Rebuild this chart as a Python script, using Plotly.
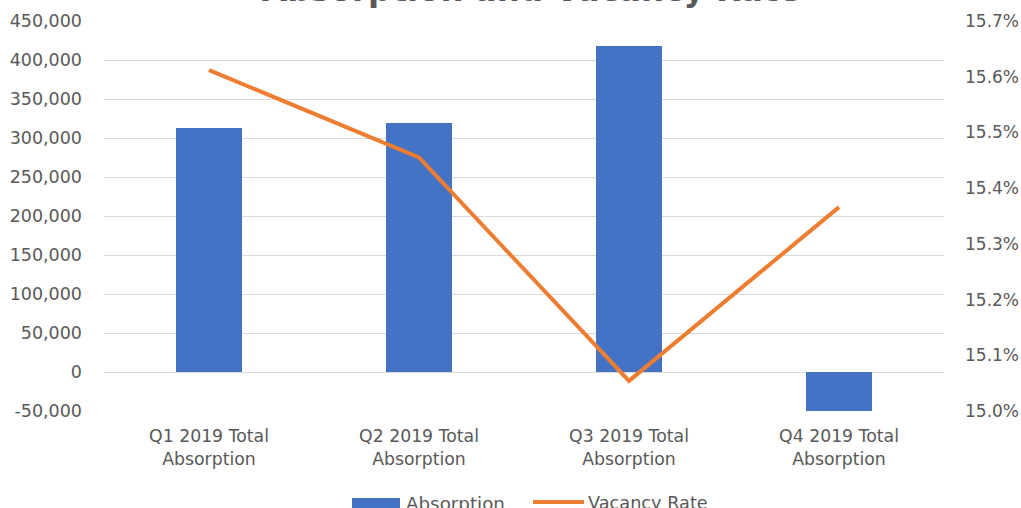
import plotly.graph_objects as go

# Quarterly data
quarters = ["Q1 2019 Total<br>Absorption", "Q2 2019 Total<br>Absorption",
            "Q3 2019 Total<br>Absorption", "Q4 2019 Total<br>Absorption"]
absorption = [313000, 319500, 418000, -50000]
vacancy_rate = [0.15612, 0.15455, 0.15054, 0.15366]

# Left-axis tick labels (plain hyphen for the negative value)
abs_ticks = [-50000, 0, 50000, 100000, 150000, 200000, 250000, 300000,
             350000, 400000, 450000]
abs_tick_text = ["-50,000", "0", "50,000", "100,000", "150,000", "200,000",
                 "250,000", "300,000", "350,000", "400,000", "450,000"]

BLUE = "#4472C4"
ORANGE = "#ED7D31"
TEXT = "#595959"
GRID = "#D9D9D9"
FONT = "DejaVu Sans"

W, H = 1021, 508
PL, PR, PT, PB = 104, 944, 21, 411  # plot area in pixels


def px_x(px):
    return (px - PL) / (PR - PL)


def px_y(py):
    return (PB - py) / (PB - PT)


fig = go.Figure()
fig.add_trace(go.Bar(x=quarters, y=absorption, name="Absorption",
                     marker=dict(color=BLUE, line=dict(width=0)), width=0.31,
                     showlegend=False))
fig.add_trace(go.Scatter(x=quarters, y=vacancy_rate, name="Vacancy Rate",
                         mode="lines", line=dict(color=ORANGE, width=4),
                         yaxis="y2", showlegend=False))

fig.update_layout(
    width=W, height=H,
    margin=dict(l=PL, r=W - PR, t=PT, b=H - PB),
    plot_bgcolor="white", paper_bgcolor="white",
    font=dict(family=FONT, size=17, color=TEXT),
    xaxis=dict(type="category", range=[-0.5, 3.5], showgrid=False,
               showline=False, zeroline=False, ticks="", automargin=False,
               tickfont=dict(size=17.3, color=TEXT), ticklabelstandoff=13),
    yaxis=dict(range=[-50000, 450000], tickvals=abs_ticks,
               ticktext=abs_tick_text,
               showgrid=True, gridcolor=GRID, gridwidth=1, zeroline=False,
               showline=False, ticks="", ticklabelstandoff=21,
               automargin=False, tickfont=dict(size=17.5, color=TEXT)),
    yaxis2=dict(range=[0.150, 0.157], dtick=0.001, tickformat=".1%",
                overlaying="y", side="right", showgrid=False, zeroline=False,
                showline=False, ticks="", ticklabelstandoff=20,
                automargin=False, tickfont=dict(size=17, color=TEXT)),
    bargap=0,
)

# Chart title
fig.add_annotation(text="<b>Absorption and Vacancy Rate</b>", xref="paper",
                   yref="paper", x=px_x(531), y=1, yanchor="bottom",
                   xanchor="center", yshift=10, showarrow=False,
                   font=dict(family=FONT, size=32.5, color=TEXT))

# Legend keys
fig.add_shape(type="rect", xref="paper", yref="paper",
              x0=px_x(352), x1=px_x(400), y0=px_y(510), y1=px_y(498),
              fillcolor=BLUE, line=dict(width=0))
fig.add_shape(type="line", xref="paper", yref="paper",
              x0=px_x(533), x1=px_x(584), y0=px_y(502), y1=px_y(502),
              line=dict(color=ORANGE, width=4))
fig.add_annotation(text="Absorption", xref="paper", yref="paper",
                   x=px_x(404), y=px_y(503), xanchor="left", yanchor="middle",
                   showarrow=False, font=dict(family=FONT, size=18.3, color=TEXT))
fig.add_annotation(text="Vacancy Rate", xref="paper", yref="paper",
                   x=px_x(586), y=px_y(503), xanchor="left", yanchor="middle",
                   showarrow=False, font=dict(family=FONT, size=17.7, color=TEXT))

fig.write_html("out.html")
